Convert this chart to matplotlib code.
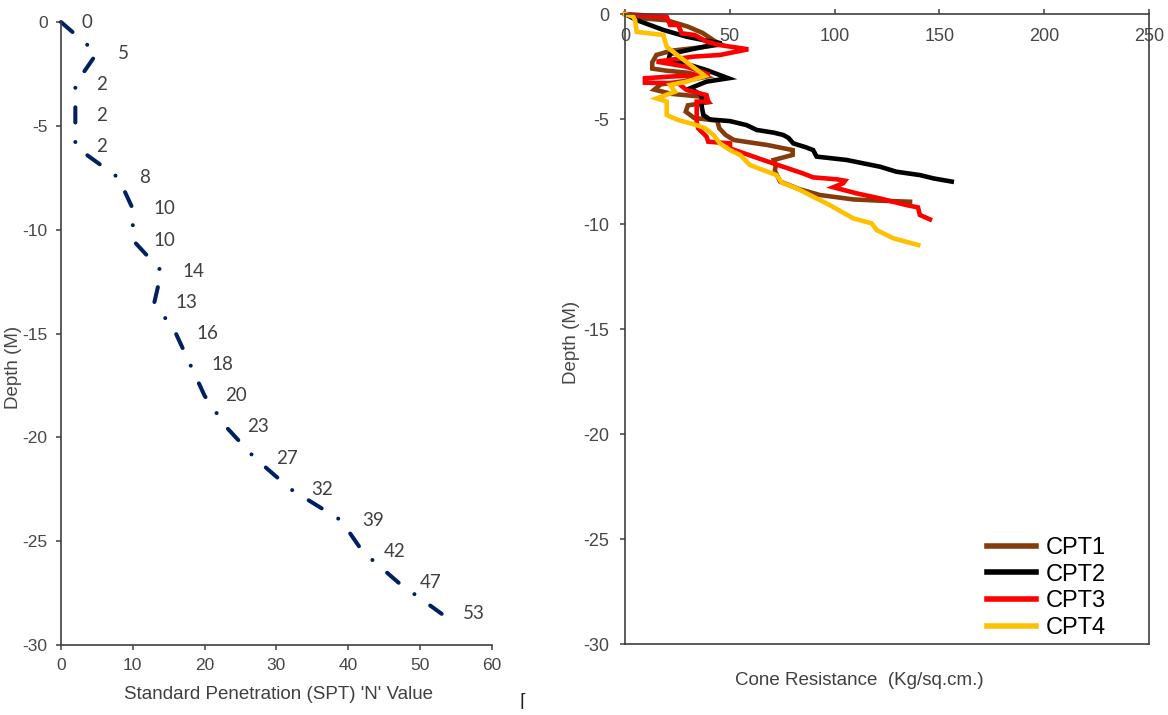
import matplotlib
matplotlib.use("Agg")
import matplotlib.pyplot as plt

plt.rcParams["font.family"] = ["Liberation Sans", "DejaVu Sans"]
plt.rcParams["lines.scale_dashes"] = False
plt.rcParams["axes.unicode_minus"] = False

# SPT borehole log: N value at every 1.5 m
spt_depth = [0, -1.5, -3.0, -4.5, -6.0, -7.5, -9.0, -10.5, -12.0, -13.5,
             -15.0, -16.5, -18.0, -19.5, -21.0, -22.5, -24.0, -25.5, -27.0, -28.5]
spt_n = [0, 5, 2, 2, 2, 8, 10, 10, 14, 13, 16, 18, 20, 23, 27, 32, 39, 42, 47, 53]

# cone resistance profiles (kg/sq.cm) against depth (m)
cpt1_q = [0, 8, 20, 30, 37, 43, 46, 35, 22, 15, 13, 13, 20, 30, 38, 28, 17, 14,
          22, 38, 40, 30, 29, 33, 44, 45, 48, 52, 68, 80, 80, 71, 72, 71.5, 74,
          83.5, 93, 109, 122, 136]
cpt1_d = [0, -0.2, -0.3, -0.6, -0.9, -1.3, -1.45, -1.6, -1.75, -1.95, -2.3, -2.6,
          -2.7, -2.8, -3.0, -3.2, -3.35, -3.6, -3.8, -3.95, -4.2, -4.35, -4.65,
          -4.95, -5.08, -5.44, -5.76, -6.0, -6.24, -6.48, -6.71, -6.95, -7.19,
          -7.46, -7.98, -8.35, -8.62, -8.83, -8.89, -8.94]

cpt2_q = [0, 5.6, 18.3, 29.4, 38.9, 46.1, 34.2, 21.5, 20.7, 29.4, 38.9, 49.3, 38.9,
          31, 36.6, 36.6, 37.4, 40.5, 50.1, 58, 62.8, 71, 75.5, 78, 80.3, 86.4,
          89.8, 91.4, 105.7, 121.6, 129.5, 140.7, 147.3, 155.9]
cpt2_d = [0, -0.29, -0.76, -1.08, -1.27, -1.4, -1.63, -1.9, -2.19, -2.38, -2.67,
          -3.06, -3.22, -3.54, -3.86, -4.41, -4.81, -5.02, -5.1, -5.29, -5.52,
          -5.65, -5.76, -5.9, -6.16, -6.35, -6.48, -6.79, -6.95, -7.27, -7.51,
          -7.67, -7.83, -7.98]

cpt3_q = [0, 19.9, 21.5, 25.4, 27, 33.4, 38.9, 45.3, 58.8, 45.3, 32.6, 15.1, 29.4,
          40.5, 21.5, 9.5, 9.5, 25.4, 29.4, 38.9, 39.7, 34.2, 34.2, 34.9, 38.9,
          39.7, 50.1, 50.1, 65.9, 84.9, 89.8, 101, 105, 104.1, 99.4, 110.5, 121.6,
          134.3, 139.8, 140.7, 145.5]
cpt3_d = [0, -0.13, -0.52, -0.52, -0.92, -1.0, -1.32, -1.48, -1.68, -1.95, -2.03,
          -2.27, -2.51, -2.9, -2.98, -3.06, -3.27, -3.3, -3.62, -3.86, -4.17,
          -4.17, -5.13, -5.44, -5.84, -6.08, -6.16, -6.4, -6.95, -7.59, -7.78,
          -7.87, -7.94, -8.06, -8.25, -8.54, -8.78, -9.1, -9.21, -9.57, -9.78]

cpt4_q = [0, 3.9, 4.8, 5.6, 18.3, 19.9, 27, 38.2, 29.4, 21.5, 23.9, 15.1, 19.9,
          19.9, 25.4, 34.2, 38.2, 42.2, 45.3, 50.1, 54.9, 59.6, 65.9, 72.3, 74.8,
          81.9, 89.8, 97.7, 108.9, 117.7, 120.1, 128, 139.9]
cpt4_d = [0, -0.13, -0.29, -0.85, -1.0, -1.56, -2.11, -2.95, -3.22, -3.38, -3.7,
          -4.02, -4.17, -4.81, -5.05, -5.29, -5.44, -5.76, -6.16, -6.48, -6.71,
          -7.19, -7.43, -7.67, -8.03, -8.3, -8.7, -9.1, -9.73, -9.97, -10.29,
          -10.68, -11.0]

cpt_names = ["CPT1", "CPT2", "CPT3", "CPT4"]
cpt_colors = ["#843C0C", "#000000", "#FF0000", "#FFC000"]

axis_grey = "#474747"
spine_grey = "#404040"

fig = plt.figure(figsize=(11.68, 7.15), dpi=100)

# ---- SPT N value vs depth ----
ax1 = fig.add_axes([0.0522, 0.0979, 0.369, 0.8713])
ax1.plot(spt_n, spt_depth, color="#002060", lw=2.9,
         linestyle=(0, (11, 14, 0.01, 14)), dash_capstyle="round", clip_on=False)
for n, d in zip(spt_n, spt_depth):
    ax1.annotate(str(n), (n, d), xytext=(15, 0), textcoords="offset points",
                 ha="left", va="center", fontsize=13.5, family="Lato",
                 color="#404040")

ax1.set_xlim(0, 60)
ax1.set_ylim(-30, 0)
ax1.set_xticks(range(0, 61, 10))
ax1.set_yticks(range(-30, 1, 5))
for side in ["top", "right"]:
    ax1.spines[side].set_visible(False)
for side in ["left", "bottom"]:
    ax1.spines[side].set_color(spine_grey)
    ax1.spines[side].set_linewidth(1.2)
ax1.tick_params(direction="out", length=3.6, width=1.1, color=spine_grey,
                labelsize=12.5, labelcolor=axis_grey, pad=6)
ax1.set_xlabel("Standard Penetration (SPT) 'N' Value", fontsize=13.5, color="#404040")
ax1.xaxis.set_label_coords(0.504, -0.066)
ax1.set_ylabel("Depth (M)", fontsize=13.5, color=axis_grey)
ax1.yaxis.set_label_coords(-0.09, 0.446)

# ---- cone resistance profiles ----
ax2 = fig.add_axes([0.5351, 0.0993, 0.4486, 0.8811])
for q, d, name, col in zip([cpt1_q, cpt2_q, cpt3_q, cpt4_q],
                           [cpt1_d, cpt2_d, cpt3_d, cpt4_d],
                           cpt_names, cpt_colors):
    ax2.plot(q, d, color=col, lw=3.3, label=name, solid_joinstyle="miter",
             clip_on=False)

ax2.set_xlim(0, 250)
ax2.set_ylim(-30, 0)
ax2.set_xticks(range(0, 251, 50))
ax2.set_yticks(range(-30, 1, 5))
for side in ax2.spines:
    ax2.spines[side].set_color(spine_grey)
    ax2.spines[side].set_linewidth(1.2)
ax2.xaxis.set_ticks_position("top")
ax2.tick_params(axis="x", direction="out", length=3.6, width=1.1, color=spine_grey,
                labelsize=13, labelcolor=axis_grey, pad=-26)
ax2.tick_params(axis="y", direction="out", length=3.6, width=1.1, color=spine_grey,
                labelsize=13, labelcolor=axis_grey, pad=8)
ax2.set_xlabel("Cone Resistance  (Kg/sq.cm.)", fontsize=13.5, color="#404040")
ax2.xaxis.set_label_position("bottom")
ax2.xaxis.set_label_coords(0.447, -0.044)
ax2.set_ylabel("Depth (M)", fontsize=13.5, color=axis_grey)
ax2.yaxis.set_label_coords(-0.086, 0.479)

ax2.legend(loc="lower left", bbox_to_anchor=(0.69, 0.008), frameon=False,
           fontsize=17, handlelength=2.1, handletextpad=0.4, labelspacing=0.2,
           borderpad=0.0, borderaxespad=0.0)
for line in ax2.get_legend().get_lines():
    line.set_linewidth(4)

fig.text(0.445, 0.012, "\u2308", fontsize=13, color="#202020", family="DejaVu Sans")

fig.savefig("out.png", dpi=100)
